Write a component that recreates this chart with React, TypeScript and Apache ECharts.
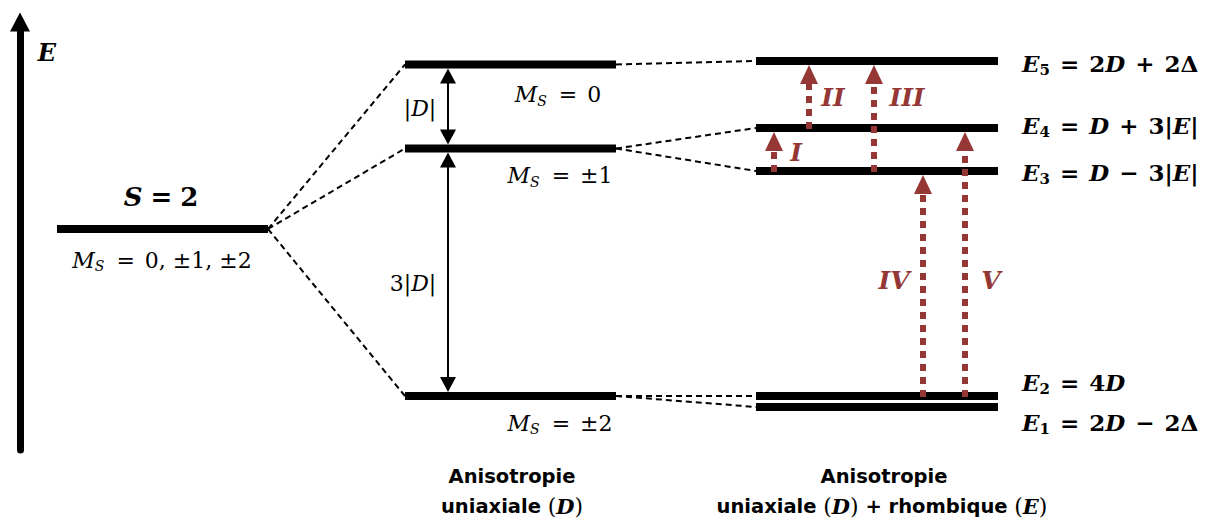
import React, { useEffect, useRef } from "react";
import * as echarts from "echarts";

// ---------- data (energies in arbitrary units on the value axis) ----------
const columnStart = [57, 405, 756];
const columnEnd = [268, 616, 998];

const freeIonEnergies = [221]; // S = 2
const uniaxialEnergies = [385.5, 301.5, 54]; // M_S = 0, ±1, ±2
const rhombicEnergies = [389, 322, 279, 54, 43]; // E5, E4, E3, E2, E1

const uniaxialParent = [0, 0, 0];
const rhombicParent = [0, 1, 1, 2, 2];

const transitionNames = ["I", "II", "III", "IV", "V"];
const transitionFrom = [2, 1, 2, 3, 3];
const transitionTo = [1, 0, 0, 2, 1];
const transitionX = [774, 809, 874, 923, 965];
const transitionLabelX = [796, 833, 907, 894, 991];
const transitionLabelE = [298, 353, 353, 170, 170];

const gapTexts = ["{mr||}{mi|D}{mr||}", "{mr|3|}{mi|D}{mr||}"];
const gapLower = [1, 2];
const gapUpper = [0, 1];
const gapX = [448, 448];
const gapLabelX = [420, 413];
const gapLabelE = [342, 167];

const freeIonLabels = ["{Bi|S}{Bop|=}{Br|2}", "{mi|M}{ms|S}{mop|=}{mr|0, ±1, ±2}"];
const uniaxialLabels = [
  "{mi|M}{ms|S}{mop|=}{mr|0}",
  "{mi|M}{ms|S}{mop|=}{mr|±1}",
  "{mi|M}{ms|S}{mop|=}{mr|±2}",
];
const rhombicLabels = [
  "{bi|E}{bs|5}{bop|=}{br|2}{bi|D}{bop|+}{br|2Δ}",
  "{bi|E}{bs|4}{bop|=}{bi|D}{bop|+}{br|3|}{bi|E}{br||}",
  "{bi|E}{bs|3}{bop|=}{bi|D}{bop|−}{br|3|}{bi|E}{br||}",
  "{bi|E}{bs|2}{bop|=}{br|4}{bi|D}",
  "{bi|E}{bs|1}{bop|=}{br|2}{bi|D}{bop|−}{br|2Δ}",
];

// label layout (x anchor, pixel offset from level, alignment)
const freeIonLabelX = [161, 162];
const freeIonLabelDy = [-32, 31];
const uniaxialLabelX = [558, 560, 560];
const uniaxialLabelDy = [30, 27, 27];
const rhombicLabelX = 1022;
const rhombicLabelDy = [2, -3, 1, -14, 15];

// ---------- styles ----------
const SERIF = '"DejaVu Serif", serif';
const SANS = '"DejaVu Sans", sans-serif';
const RED = "#953735";
const BLACK = "#000";

const rich: any = {
  mi: { fontFamily: SERIF, fontStyle: "italic", fontSize: 22, fill: BLACK },
  mr: { fontFamily: SERIF, fontSize: 22, fill: BLACK },
  mop: { fontFamily: SERIF, fontSize: 22, fill: BLACK, padding: [0, 10, 0, 10] },
  ms: { fontFamily: SERIF, fontStyle: "italic", fontSize: 14, fill: BLACK, padding: [12, 2, 0, 0] },
  bi: { fontFamily: SERIF, fontStyle: "italic", fontWeight: "bold", fontSize: 23, fill: BLACK },
  br: { fontFamily: SERIF, fontWeight: "bold", fontSize: 23, fill: BLACK },
  bop: { fontFamily: SERIF, fontWeight: "bold", fontSize: 23, fill: BLACK, padding: [0, 10, 0, 10] },
  bs: { fontFamily: SERIF, fontWeight: "bold", fontSize: 15, fill: BLACK, padding: [14, 0, 0, 0] },
  Bi: { fontFamily: SERIF, fontStyle: "italic", fontWeight: "bold", fontSize: 26, fill: BLACK },
  Br: { fontFamily: SERIF, fontWeight: "bold", fontSize: 26, fill: BLACK },
  Bop: { fontFamily: SERIF, fontWeight: "bold", fontSize: 26, fill: BLACK, padding: [0, 8, 0, 8] },
  s: { fontFamily: SANS, fontWeight: "bold", fontSize: 19.5, fill: BLACK },
  p: { fontFamily: SERIF, fontSize: 22, fill: BLACK },
  d: { fontFamily: SERIF, fontStyle: "italic", fontWeight: "bold", fontSize: 21, fill: BLACK },
};

// ---------- derived series data ----------
const levelData: number[][] = [
  ...freeIonEnergies.map((e) => [columnStart[0], columnEnd[0], e]),
  ...uniaxialEnergies.map((e) => [columnStart[1], columnEnd[1], e]),
  ...rhombicEnergies.map((e) => [columnStart[2], columnEnd[2], e]),
];

const connectorData: number[][] = [
  ...uniaxialEnergies.map((e, i) => [columnEnd[0], freeIonEnergies[uniaxialParent[i]], columnStart[1], e]),
  ...rhombicEnergies.map((e, i) => [columnEnd[1], uniaxialEnergies[rhombicParent[i]], columnStart[2], e]),
];

const transitionData: number[][] = transitionNames.map((_, i) => [
  transitionX[i],
  rhombicEnergies[transitionFrom[i]],
  rhombicEnergies[transitionTo[i]],
  transitionLabelX[i],
  transitionLabelE[i],
]);

const gapData: number[][] = gapTexts.map((_, i) => [
  gapX[i],
  uniaxialEnergies[gapLower[i]],
  uniaxialEnergies[gapUpper[i]],
  gapLabelX[i],
  gapLabelE[i],
]);

const labelTexts: string[] = [];
const labelAlign: string[] = [];
const labelData: number[][] = [];
freeIonLabels.forEach((t, i) => {
  labelTexts.push(t);
  labelAlign.push("center");
  labelData.push([freeIonLabelX[i], freeIonEnergies[0], freeIonLabelDy[i]]);
});
uniaxialLabels.forEach((t, i) => {
  labelTexts.push(t);
  labelAlign.push("center");
  labelData.push([uniaxialLabelX[i], uniaxialEnergies[i], uniaxialLabelDy[i]]);
});
rhombicLabels.forEach((t, i) => {
  labelTexts.push(t);
  labelAlign.push("left");
  labelData.push([rhombicLabelX, rhombicEnergies[i], rhombicLabelDy[i]]);
});

const option: any = {
  animation: false,
  backgroundColor: "#fff",
  grid: { left: 20, right: 0, top: 22, bottom: 69 },
  xAxis: { type: "value", min: 20, max: 1207, show: false },
  yAxis: {
    type: "value",
    min: 0,
    max: 428,
    axisLine: {
      show: true,
      onZero: false,
      symbol: ["none", "triangle"],
      symbolSize: [20, 19],
      lineStyle: { color: BLACK, width: 7 },
    },
    axisTick: { show: false },
    axisLabel: { show: false },
    splitLine: { show: false },
  },
  graphic: [
    {
      type: "text",
      x: 47,
      y: 52,
      style: {
        text: "E",
        font: `italic bold 24px ${SERIF}`,
        fill: BLACK,
        align: "center",
        verticalAlign: "middle",
      },
    },
    {
      type: "text",
      x: 512,
      y: 476,
      style: { text: "Anisotropie", font: `bold 19.5px ${SANS}`, fill: BLACK, align: "center", verticalAlign: "middle" },
    },
    {
      type: "text",
      x: 512,
      y: 506,
      style: { text: "{s|uniaxiale }{p|(}{d|D}{p|)}", rich, align: "center", verticalAlign: "middle" },
    },
    {
      type: "text",
      x: 884,
      y: 476,
      style: { text: "Anisotropie", font: `bold 19.5px ${SANS}`, fill: BLACK, align: "center", verticalAlign: "middle" },
    },
    {
      type: "text",
      x: 882,
      y: 506,
      style: {
        text: "{s|uniaxiale }{p|(}{d|D}{p|)}{s| + rhombique }{p|(}{d|E}{p|)}",
        rich,
        align: "center",
        verticalAlign: "middle",
      },
    },
  ],
  series: [
    {
      type: "custom",
      name: "connectors",
      z: 1,
      data: connectorData,
      renderItem: (_: any, api: any) => {
        const a = api.coord([api.value(0), api.value(1)]);
        const b = api.coord([api.value(2), api.value(3)]);
        return {
          type: "line",
          shape: { x1: a[0], y1: a[1], x2: b[0], y2: b[1] },
          style: { stroke: BLACK, lineWidth: 2, lineDash: [6, 4] },
        };
      },
    },
    {
      type: "custom",
      name: "levels",
      z: 2,
      data: levelData,
      renderItem: (_: any, api: any) => {
        const a = api.coord([api.value(0), api.value(2)]);
        const b = api.coord([api.value(1), api.value(2)]);
        return {
          type: "line",
          shape: { x1: a[0], y1: a[1], x2: b[0], y2: b[1] },
          style: { stroke: BLACK, lineWidth: 8 },
        };
      },
    },
    {
      type: "custom",
      name: "splittings",
      z: 3,
      data: gapData,
      renderItem: (params: any, api: any) => {
        const lo = api.coord([api.value(0), api.value(1)]);
        const hi = api.coord([api.value(0), api.value(2)]);
        const x = lo[0];
        const top = hi[1] + 4;
        const bot = lo[1] - 4;
        const lab = api.coord([api.value(3), api.value(4)]);
        return {
          type: "group",
          children: [
            { type: "line", shape: { x1: x, y1: top + 10, x2: x, y2: bot - 10 }, style: { stroke: BLACK, lineWidth: 2 } },
            { type: "polygon", shape: { points: [[x - 8, top + 15], [x + 8, top + 15], [x, top]] }, style: { fill: BLACK } },
            { type: "polygon", shape: { points: [[x - 8, bot - 15], [x + 8, bot - 15], [x, bot]] }, style: { fill: BLACK } },
            {
              type: "text",
              x: lab[0],
              y: lab[1],
              style: { text: gapTexts[params.dataIndex], rich, align: "center", verticalAlign: "middle" },
            },
          ],
        };
      },
    },
    {
      type: "custom",
      name: "transitions",
      z: 4,
      data: transitionData,
      renderItem: (params: any, api: any) => {
        const base = api.coord([api.value(0), api.value(1)]);
        const topP = api.coord([api.value(0), api.value(2)]);
        const x = base[0];
        const tip = topP[1] + 4;
        const headBase = tip + 19;
        const lab = api.coord([api.value(3), api.value(4)]);
        return {
          type: "group",
          children: [
            {
              type: "line",
              shape: { x1: x, y1: base[1] + 1, x2: x, y2: headBase },
              style: { stroke: RED, lineWidth: 6, lineDash: [7, 6], lineCap: "butt" },
            },
            {
              type: "polygon",
              shape: { points: [[x - 9, headBase], [x + 9, headBase], [x, tip]] },
              style: { fill: RED },
            },
            {
              type: "text",
              x: lab[0],
              y: lab[1],
              style: {
                text: transitionNames[params.dataIndex],
                font: `italic bold 25px ${SERIF}`,
                fill: RED,
                align: "center",
                verticalAlign: "middle",
              },
            },
          ],
        };
      },
    },
    {
      type: "custom",
      name: "labels",
      z: 5,
      data: labelData,
      renderItem: (params: any, api: any) => {
        const p = api.coord([api.value(0), api.value(1)]);
        return {
          type: "text",
          x: p[0],
          y: p[1] + api.value(2),
          style: {
            text: labelTexts[params.dataIndex],
            rich,
            align: labelAlign[params.dataIndex],
            verticalAlign: "middle",
          },
        };
      },
    },
  ],
};

export default function App() {
  const ref = useRef<HTMLDivElement>(null);
  useEffect(() => {
    document.body.style.margin = "0";
    const chart = echarts.init(ref.current as HTMLDivElement, null, { renderer: "svg" });
    chart.setOption(option);
    return () => chart.dispose();
  }, []);
  return <div ref={ref} style={{ width: 1207, height: 519 }} />;
}
